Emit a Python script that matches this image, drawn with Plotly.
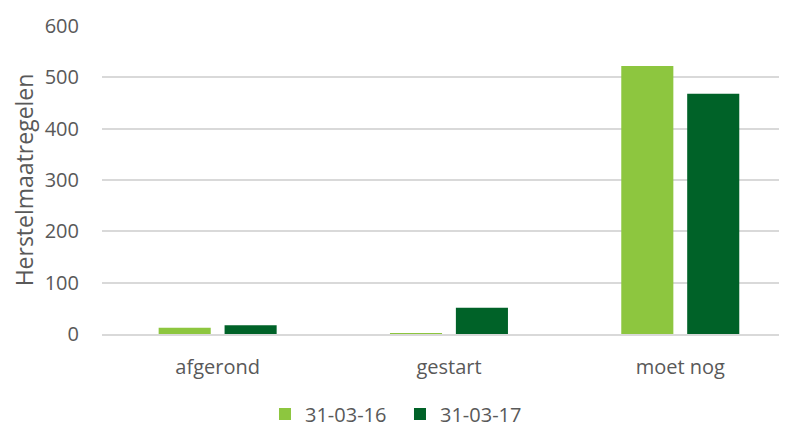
import plotly.graph_objects as go

categories = ["afgerond", "gestart", "moet nog"]
series_names = ["31-03-16", "31-03-17"]
values_2016 = [12, 1, 522]
values_2017 = [17, 51, 468]
y_ticks = [0, 100, 200, 300, 400, 500, 600]

colors = ["#8DC63F", "#006228"]
font_family = "Open Sans, Liberation Sans, sans-serif"
text_color = "#595959"

fig = go.Figure()
for name, vals, col in zip(series_names, [values_2016, values_2017], colors):
    fig.add_trace(go.Bar(x=categories, y=vals, name=name, marker=dict(color=col, line=dict(width=0))))

fig.update_layout(
    width=787, height=428,
    margin=dict(l=94, r=0, t=18, b=102),
    paper_bgcolor="white", plot_bgcolor="white",
    barmode="group", bargap=0.43, bargroupgap=0.21,
    font=dict(family=font_family, size=20, color=text_color),
    legend=dict(orientation="h", x=0.43, xanchor="center", y=-0.26, yanchor="middle",
                entrywidth=90, font=dict(size=20, color=text_color)),
    showlegend=True,
)
fig.update_xaxes(range=[-0.5, 2.496], showgrid=False, showline=True, linecolor="#D9D9D9",
                 linewidth=1.5, ticks="", automargin=False, ticklabelstandoff=14,
                 tickfont=dict(size=20, color=text_color))
fig.update_yaxes(range=[0, 600], tickvals=y_ticks, showgrid=True, gridcolor="#D9D9D9",
                 gridwidth=1.5, zeroline=False, showline=False, ticks="",
                 ticklabelstandoff=22, automargin=False,
                 title=dict(text="Herstelmaatregelen", font=dict(size=23, color=text_color), standoff=10),
                 tickfont=dict(size=20, color=text_color))
fig.write_html("out.html")
